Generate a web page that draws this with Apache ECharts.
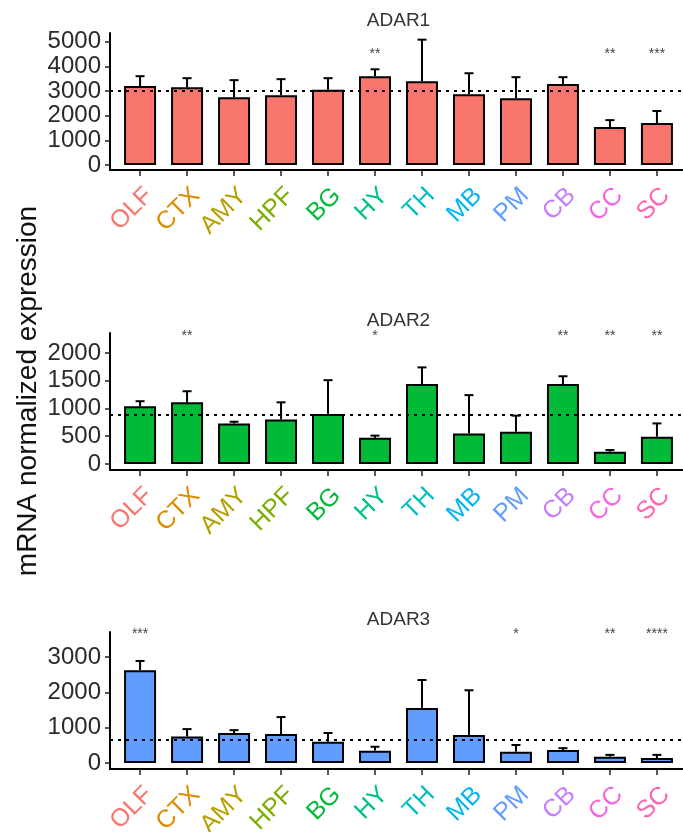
<!DOCTYPE html>
<html>
<head>
<meta charset="utf-8">
<script src="https://cdn.jsdelivr.net/npm/echarts@6/dist/echarts.min.js"></script>
<style>
  html, body { margin: 0; padding: 0; background: #fff; }
  #chart { width: 683px; height: 832px; }
</style>
</head>
<body>
<div id="chart"></div>
<script>
// Brain regions along the x axis and their label colours
const regions = ['OLF', 'CTX', 'AMY', 'HPF', 'BG', 'HY', 'TH', 'MB', 'PM', 'CB', 'CC', 'SC'];
const regionColors = ['#F8766D', '#DE8C00', '#B79F00', '#7CAE00', '#00BA38', '#00C08B',
                      '#00BFC4', '#00B4F0', '#619CFF', '#C77CFF', '#F564E3', '#FF64B0'];

// ADAR1: mean, SD, overall reference, significance
const adar1Mean = [3200, 3150, 2750, 2830, 3050, 3600, 3400, 2870, 2710, 3280, 1540, 1700];
const adar1Sd   = [400, 370, 690, 650, 470, 280, 1680, 850, 850, 280, 280, 490];
const adar1Ref  = 3000;
const adar1Sig  = ['', '', '', '', '', '**', '', '', '', '', '**', '***'];
const adar1Ticks = [0, 1000, 2000, 3000, 4000, 5000];

// ADAR2
const adar2Mean = [1040, 1110, 730, 800, 900, 470, 1440, 550, 580, 1440, 220, 490];
const adar2Sd   = [90, 200, 30, 310, 610, 40, 300, 690, 290, 140, 30, 240];
const adar2Ref  = 880;
const adar2Sig  = ['', '**', '', '', '', '*', '', '', '', '**', '**', '**'];
const adar2Ticks = [0, 500, 1000, 1500, 2000];

// ADAR3
const adar3Mean = [2630, 750, 850, 820, 600, 350, 1560, 790, 320, 370, 180, 140];
const adar3Sd   = [260, 210, 80, 480, 250, 110, 790, 1270, 190, 50, 50, 90];
const adar3Ref  = 650;
const adar3Sig  = ['***', '', '', '', '', '', '', '', '*', '', '**', '****'];
const adar3Ticks = [0, 1000, 2000, 3000];

const FONT = '"Liberation Sans", Arial, sans-serif';
const regionIdx = regions.map((_, i) => i);

// Panel layout: plot box and value range of each gene panel
const panels = [
  { name: 'ADAR1', mean: adar1Mean, sd: adar1Sd, ref: adar1Ref, sig: adar1Sig, ticks: adar1Ticks,
    fill: '#F8766D', top: 33, min: -200, max: 5350, sigY: 4480 },
  { name: 'ADAR2', mean: adar2Mean, sd: adar2Sd, ref: adar2Ref, sig: adar2Sig, ticks: adar2Ticks,
    fill: '#00BA38', top: 333, min: -110, max: 2360, sigY: 2310 },
  { name: 'ADAR3', mean: adar3Mean, sd: adar3Sd, ref: adar3Ref, sig: adar3Sig, ticks: adar3Ticks,
    fill: '#619CFF', top: 632, min: -170, max: 3710, sigY: 3640 }
];
const PLOT_H = 137;
const PLOT_LEFT = 110;
const PLOT_W = 577;

const rich = {};
regions.forEach((r, i) => {
  rich['c' + i] = { color: regionColors[i], fontSize: 25, fontFamily: FONT };
});

const option = {
  animation: false,
  backgroundColor: '#fff',
  title: [],
  grid: [],
  xAxis: [],
  yAxis: [],
  series: [],
  graphic: [{
    type: 'text',
    x: 28, y: 391,
    rotation: Math.PI / 2,
    style: {
      text: 'mRNA normalized expression',
      font: '28px ' + FONT,
      fill: '#111',
      textAlign: 'center',
      textVerticalAlign: 'middle'
    }
  }]
};

panels.forEach((p, k) => {
  option.title.push({
    text: p.name,
    left: PLOT_LEFT + PLOT_W / 2,
    top: p.top - 22,
    textAlign: 'center',
    padding: 0,
    textStyle: { fontSize: 19, fontWeight: 'normal', color: '#333', fontFamily: FONT }
  });
  option.grid.push({
    left: PLOT_LEFT, top: p.top, width: PLOT_W, height: PLOT_H,
    containLabel: false, outerBoundsMode: 'none'
  });
  option.xAxis.push({
    type: 'value', gridIndex: k, min: -0.64, max: 11.64,
    axisLine: { show: true, onZero: false, lineStyle: { color: '#000', width: 2 } },
    axisTick: { show: true, length: 6, customValues: regionIdx, lineStyle: { color: '#222', width: 1.5 } },
    splitLine: { show: false },
    axisLabel: {
      customValues: regionIdx, rotate: 45, margin: 13, verticalAlign: 'top', hideOverlap: false,
      formatter: v => '{c' + v + '|' + regions[v] + '}',
      rich: rich
    }
  });
  option.yAxis.push({
    type: 'value', gridIndex: k, min: p.min, max: p.max,
    axisLine: { show: true, onZero: false, lineStyle: { color: '#000', width: 2 } },
    axisTick: { show: true, length: 5, customValues: p.ticks, lineStyle: { color: '#222', width: 1.5 } },
    splitLine: { show: false },
    axisLabel: {
      customValues: p.ticks, fontSize: 24, color: '#2a2a2a', fontFamily: FONT, margin: 9,
      hideOverlap: false, showMinLabel: true, showMaxLabel: true,
      formatter: v => String(v)
    }
  });
  // bars
  option.series.push({
    type: 'bar', xAxisIndex: k, yAxisIndex: k, barWidth: 32, z: 2,
    data: p.mean.map((v, i) => [i, v]),
    itemStyle: { color: p.fill, borderColor: '#000', borderWidth: 2 },
    markLine: {
      silent: true, symbol: 'none', label: { show: false }, z: 6,
      lineStyle: { type: [3, 5], color: '#000', width: 2 },
      data: [{ yAxis: p.ref }]
    }
  });
  // upper error bars (mean to mean + SD)
  option.series.push({
    type: 'custom', xAxisIndex: k, yAxisIndex: k, z: 3,
    data: p.mean.map((v, i) => [i, v, p.sd[i]]),
    encode: { x: 0, y: 1 },
    renderItem: (params, api) => {
      const i = api.value(0), m = api.value(1), s = api.value(2);
      const base = api.coord([i, m]);
      const top = api.coord([i, m + s]);
      const half = 4.5;
      const st = { stroke: '#000', lineWidth: 2 };
      return {
        type: 'group',
        children: [
          { type: 'line', shape: { x1: base[0], y1: base[1], x2: top[0], y2: top[1] }, style: st },
          { type: 'line', shape: { x1: top[0] - half, y1: top[1], x2: top[0] + half, y2: top[1] }, style: st }
        ]
      };
    }
  });
  // significance markers
  option.series.push({
    type: 'custom', xAxisIndex: k, yAxisIndex: k, z: 4,
    data: p.sig.map((s, i) => [i, p.sigY, s]),
    encode: { x: 0, y: 1 },
    renderItem: (params, api) => {
      const label = p.sig[params.dataIndex];
      if (!label) return null;
      const pt = api.coord([api.value(0), api.value(1)]);
      return {
        type: 'text', x: pt[0], y: pt[1],
        style: { text: label, fontSize: 14, fontFamily: FONT, fill: '#444', textAlign: 'center', textVerticalAlign: 'middle' }
      };
    }
  });
});

const chart = echarts.init(document.getElementById('chart'), null, { renderer: 'canvas' });
chart.setOption(option);
</script>
</body>
</html>
